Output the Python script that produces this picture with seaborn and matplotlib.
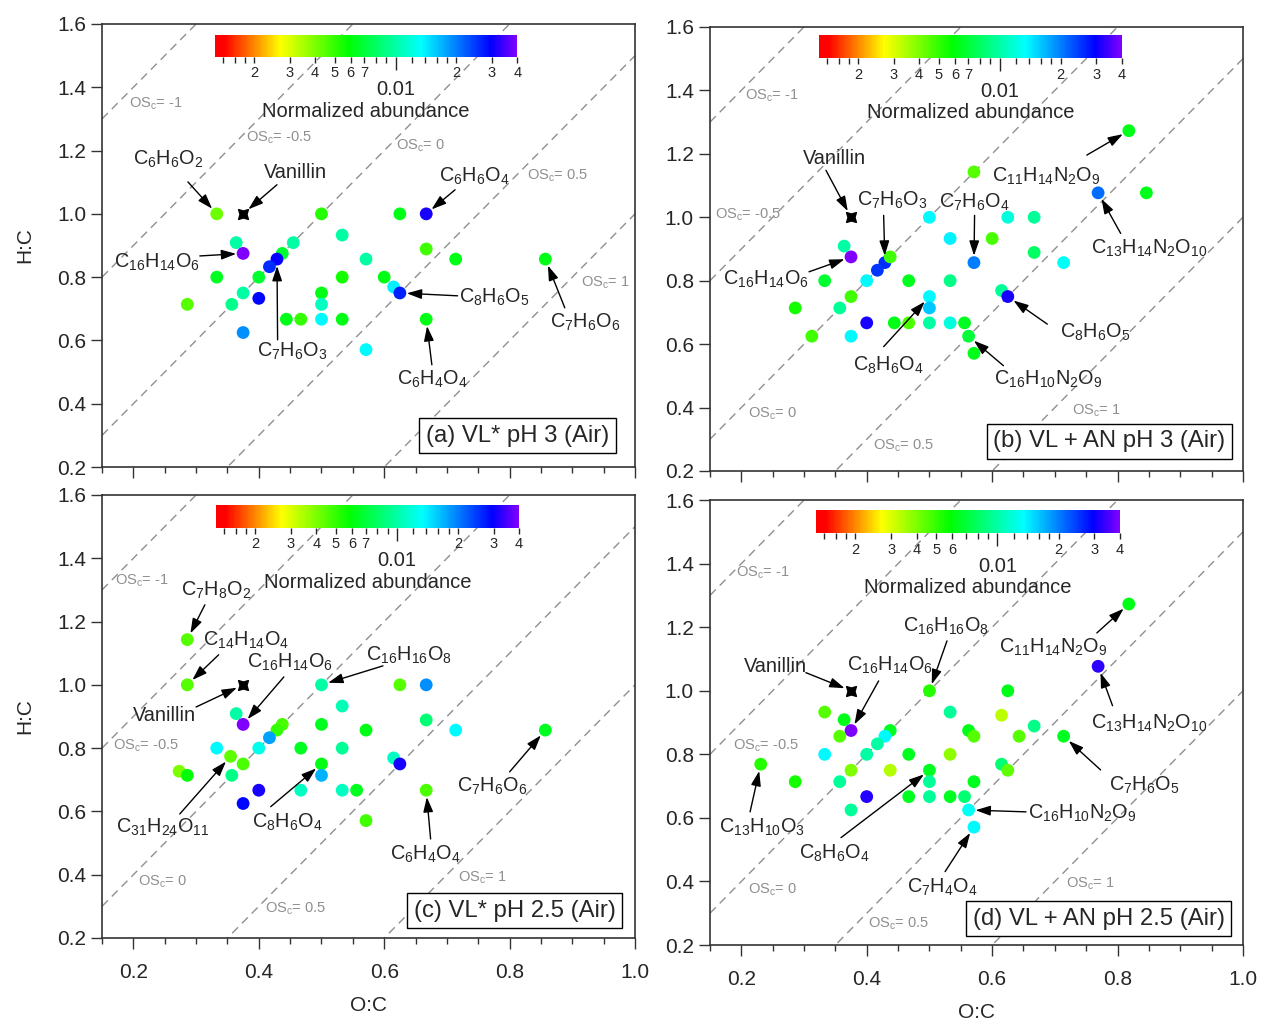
import re
import numpy as np
import pandas as pd
import matplotlib
matplotlib.use("Agg")
import matplotlib.pyplot as plt
import matplotlib.cm as cm
from matplotlib.colors import LinearSegmentedColormap, LogNorm
import seaborn as sns

sns.set_style("ticks")
plt.rcParams['font.family'] = ['Liberation Sans', 'DejaVu Sans']
plt.rcParams['mathtext.fontset'] = 'custom'
plt.rcParams['mathtext.rm'] = 'Liberation Sans'
plt.rcParams['mathtext.it'] = 'Liberation Sans:italic'
plt.rcParams['mathtext.bf'] = 'Liberation Sans:bold'
plt.rcParams['mathtext.default'] = 'regular'

# ---------------- data ----------------
osc_values = [-1, -0.5, 0, 0.5, 1]
vanillin = (0.375, 1.0)

a_oc = [0.333, 0.5, 0.625, 0.667, 0.364, 0.375, 0.455, 0.533, 0.4375, 0.429, 0.417, 0.333, 0.4, 0.375,
        0.4, 0.286, 0.357, 0.375, 0.571, 0.667, 0.714, 0.857, 0.533, 0.5, 0.5, 0.444, 0.467, 0.5, 0.533,
        0.6, 0.615, 0.625, 0.667, 0.571]
a_hc = [1.0, 1.0, 1.0, 1.0, 0.909, 0.875, 0.909, 0.933, 0.875, 0.857, 0.833, 0.8, 0.8, 0.75,
        0.733, 0.714, 0.714, 0.625, 0.857, 0.889, 0.857, 0.857, 0.8, 0.75, 0.714, 0.667, 0.667, 0.667, 0.667,
        0.8, 0.769, 0.75, 0.667, 0.571]
a_ab = [0.0042, 0.0052, 0.0062, 0.031, 0.010, 0.040, 0.010, 0.010, 0.0068, 0.030, 0.026, 0.0065, 0.0068, 0.010,
        0.029, 0.0045, 0.0092, 0.019, 0.010, 0.0048, 0.0062, 0.0062, 0.0055, 0.0062, 0.011, 0.0063, 0.0050, 0.0135, 0.0062,
        0.0062, 0.014, 0.027, 0.0062, 0.0135]

b_oc = [0.5, 0.571, 0.533, 0.364, 0.375, 0.429, 0.4375, 0.571, 0.818, 0.769, 0.846, 0.625, 0.667, 0.6,
        0.667, 0.714, 0.417, 0.4, 0.333, 0.467, 0.533, 0.286, 0.357, 0.375, 0.5, 0.5, 0.615, 0.625,
        0.3125, 0.4, 0.444, 0.467, 0.5, 0.533, 0.556, 0.375, 0.5625, 0.571]
b_hc = [1.0, 1.143, 0.933, 0.909, 0.875, 0.857, 0.875, 0.857, 1.273, 1.077, 1.077, 1.0, 1.0, 0.933,
        0.889, 0.857, 0.833, 0.8, 0.8, 0.8, 0.8, 0.714, 0.714, 0.75, 0.75, 0.714, 0.769, 0.75,
        0.625, 0.667, 0.667, 0.667, 0.667, 0.667, 0.667, 0.625, 0.625, 0.571]
b_ab = [0.0135, 0.0045, 0.014, 0.010, 0.040, 0.026, 0.0048, 0.020, 0.0063, 0.021, 0.0063, 0.012, 0.0095, 0.0047,
        0.008, 0.013, 0.025, 0.0135, 0.0068, 0.0064, 0.009, 0.0055, 0.0095, 0.0048, 0.0135, 0.016, 0.0095, 0.031,
        0.0048, 0.031, 0.0062, 0.0046, 0.010, 0.012, 0.0065, 0.0135, 0.007, 0.0063]

c_oc = [0.286, 0.286, 0.5, 0.625, 0.667, 0.364, 0.375, 0.533, 0.4375, 0.429, 0.417, 0.5, 0.571, 0.667,
        0.714, 0.857, 0.333, 0.4, 0.467, 0.533, 0.355, 0.375, 0.357, 0.273, 0.286, 0.5, 0.5, 0.615,
        0.625, 0.4, 0.375, 0.467, 0.533, 0.556, 0.667, 0.571]
c_hc = [1.143, 1.0, 1.0, 1.0, 1.0, 0.909, 0.875, 0.933, 0.875, 0.857, 0.833, 0.875, 0.857, 0.889,
        0.857, 0.857, 0.8, 0.8, 0.8, 0.8, 0.774, 0.75, 0.714, 0.727, 0.714, 0.75, 0.714, 0.769,
        0.75, 0.667, 0.625, 0.667, 0.667, 0.667, 0.667, 0.571]
c_ab = [0.0045, 0.0045, 0.010, 0.0045, 0.019, 0.010, 0.040, 0.0105, 0.0047, 0.0050, 0.018, 0.0065, 0.0062, 0.0085,
        0.0135, 0.0065, 0.0135, 0.0125, 0.0065, 0.0095, 0.0044, 0.0046, 0.009, 0.0040, 0.006, 0.0062, 0.017, 0.011,
        0.031, 0.031, 0.029, 0.011, 0.011, 0.0065, 0.0046, 0.0048]

d_oc = [0.5, 0.333, 0.364, 0.375, 0.533, 0.4375, 0.5625, 0.571, 0.818, 0.769, 0.625, 0.615, 0.667, 0.357,
        0.429, 0.417, 0.4, 0.333, 0.467, 0.533, 0.643, 0.714, 0.231, 0.286, 0.357, 0.375, 0.4375, 0.5,
        0.5, 0.571, 0.615, 0.625, 0.4, 0.467, 0.5, 0.533, 0.556, 0.375, 0.5625, 0.571]
d_hc = [1.0, 0.933, 0.909, 0.875, 0.933, 0.875, 0.875, 0.857, 1.273, 1.077, 1.0, 0.923, 0.889, 0.857,
        0.857, 0.833, 0.8, 0.8, 0.8, 0.8, 0.857, 0.857, 0.769, 0.714, 0.714, 0.75, 0.75, 0.75,
        0.714, 0.714, 0.769, 0.75, 0.667, 0.667, 0.667, 0.667, 0.667, 0.625, 0.625, 0.571]
d_ab = [0.0052, 0.0045, 0.0063, 0.040, 0.0095, 0.0065, 0.0063, 0.0045, 0.0063, 0.033, 0.0063, 0.0033, 0.009, 0.0045,
        0.0135, 0.010, 0.010, 0.0135, 0.0065, 0.0038, 0.0045, 0.0065, 0.0052, 0.0055, 0.0095, 0.0040, 0.0034, 0.0065,
        0.0095, 0.0065, 0.0085, 0.0044, 0.032, 0.0065, 0.0095, 0.0065, 0.0085, 0.0095, 0.013, 0.0135]

panel_tags = ["(a) VL* pH 3 (Air)", "(b) VL + AN pH 3 (Air)",
              "(c) VL* pH 2.5 (Air)", "(d) VL + AN pH 2.5 (Air)"]

cb_ticks = [0.002, 0.003, 0.004, 0.005, 0.006, 0.007, 0.02, 0.03, 0.04]
cb_tick_labels = ['2', '3', '4', '5', '6', '7', '2', '3', '4']
cb_minor = [0.0014, 0.0016, 0.0018, 0.008, 0.009, 0.012, 0.014, 0.016, 0.018]

# ---------------- layout / annotations ----------------
# (formula, text xy, arrow tail xy, arrow target xy)
notes = {
    'a': [("C6H6O2", (0.255, 1.171), (0.287, 1.101), (0.333, 1.0)),
          ("Vanillin", (0.458, 1.130), (0.429, 1.092), (0.375, 1.0)),
          ("C6H6O4", (0.743, 1.120), (0.713, 1.076), (0.667, 1.0)),
          ("C16H14O6", (0.238, 0.848), (0.306, 0.867), (0.375, 0.875)),
          ("C7H6O3", (0.453, 0.564), (0.430, 0.602), (0.429, 0.857)),
          ("C8H6O5", (0.776, 0.735), (0.717, 0.741), (0.625, 0.75)),
          ("C7H6O6", (0.920, 0.656), (0.888, 0.703), (0.857, 0.857)),
          ("C6H4O4", (0.677, 0.476), (0.676, 0.523), (0.667, 0.667))],
    'b': [("Vanillin", (0.349, 1.186), (0.335, 1.148), (0.375, 1.0)),
          ("C7H6O3", (0.440, 1.054), (0.427, 1.006), (0.429, 0.857)),
          ("C7H6O4", (0.572, 1.047), (0.572, 1.006), (0.571, 0.857)),
          ("C11H14N2O9", (0.686, 1.129), (0.751, 1.196), (0.818, 1.273)),
          ("C13H14N2O10", (0.850, 0.902), (0.805, 0.949), (0.769, 1.077)),
          ("C16H14O6", (0.240, 0.803), (0.308, 0.828), (0.375, 0.875)),
          ("C8H6O5", (0.764, 0.637), (0.688, 0.663), (0.625, 0.75)),
          ("C8H6O4", (0.434, 0.534), (0.427, 0.592), (0.5, 0.75)),
          ("C16H10N2O9", (0.690, 0.488), (0.618, 0.532), (0.5625, 0.625))],
    'c': [("C7H8O2", (0.332, 1.300), (0.314, 1.253), (0.286, 1.143)),
          ("C14H14O4", (0.379, 1.142), (0.336, 1.095), (0.286, 1.0)),
          ("C16H14O6", (0.450, 1.070), (0.440, 1.025), (0.375, 0.875)),
          ("C16H16O8", (0.639, 1.092), (0.598, 1.060), (0.5, 1.0)),
          ("Vanillin", (0.249, 0.902), (0.300, 0.930), (0.375, 1.0)),
          ("C31H24O11", (0.247, 0.551), (0.274, 0.592), (0.355, 0.774)),
          ("C8H6O4", (0.445, 0.567), (0.419, 0.615), (0.5, 0.75)),
          ("C7H6O6", (0.773, 0.678), (0.800, 0.725), (0.857, 0.857)),
          ("C6H4O4", (0.666, 0.463), (0.674, 0.513), (0.667, 0.667))],
    'd': [("Vanillin", (0.254, 1.075), (0.303, 1.057), (0.375, 1.0)),
          ("C16H14O6", (0.437, 1.079), (0.419, 1.031), (0.375, 0.875)),
          ("C16H16O8", (0.526, 1.204), (0.528, 1.157), (0.5, 1.0)),
          ("C11H14N2O9", (0.697, 1.138), (0.767, 1.182), (0.818, 1.273)),
          ("C13H14N2O10", (0.851, 0.896), (0.792, 0.953), (0.769, 1.077)),
          ("C7H6O5", (0.842, 0.704), (0.773, 0.751), (0.714, 0.857)),
          ("C16H10N2O9", (0.744, 0.613), (0.654, 0.619), (0.5625, 0.625)),
          ("C13H10O3", (0.233, 0.569), (0.214, 0.619), (0.231, 0.769)),
          ("C8H6O4", (0.349, 0.490), (0.359, 0.538), (0.5, 0.75)),
          ("C7H4O4", (0.520, 0.383), (0.525, 0.431), (0.571, 0.571))],
}
os_label_pos = {
    'a': [(0.236, 1.348), (0.432, 1.240), (0.658, 1.215), (0.877, 1.120), (0.952, 0.782)],
    'b': [(0.249, 1.382), (0.211, 1.009), (0.250, 0.381), (0.459, 0.280), (0.767, 0.391)],
    'c': [(0.214, 1.329), (0.220, 0.807), (0.247, 0.378), (0.459, 0.292), (0.756, 0.390)],
    'd': [(0.234, 1.371), (0.239, 0.827), (0.250, 0.374), (0.451, 0.267), (0.757, 0.393)],
}
tag_pos = {'a': (0.813, 0.299), 'b': (0.787, 0.293), 'c': (0.808, 0.286), 'd': (0.770, 0.283)}
axes_rect = {'a': [0.0809, 0.5426, 0.4227, 0.4339], 'b': [0.5630, 0.5387, 0.4227, 0.4349],
             'c': [0.0809, 0.0813, 0.4227, 0.4339], 'd': [0.5630, 0.0744, 0.4227, 0.4358]}
cbar_rect = {'a': [0.212, 0.926, 0.567, 0.050], 'b': [0.2045, 0.930, 0.568, 0.052],
             'c': [0.214, 0.926, 0.568, 0.052], 'd': [0.199, 0.926, 0.570, 0.052]}

cmap = LinearSegmentedColormap.from_list(
    "abund", [(0.0, '#ff0000'), (0.03, '#ff0000'), (0.215, '#ffff00'), (0.44, '#00ff00'),
              (0.683, '#00ffff'), (0.914, '#0000ff'), (1.0, '#8000ff')])
norm = LogNorm(vmin=0.00128, vmax=0.04)


def fm(s):
    if s == "Vanillin":
        return s
    return re.sub(r'(\d+)', r'$_{\1}$', s)


def os_text(v):
    return "OS$_c$= " + ("%g" % v)


fig = plt.figure(figsize=(12.61, 10.21), dpi=100)
data = {'a': (a_oc, a_hc, a_ab), 'b': (b_oc, b_hc, b_ab),
        'c': (c_oc, c_hc, c_ab), 'd': (d_oc, d_hc, d_ab)}

for i, key in enumerate(['a', 'b', 'c', 'd']):
    ax = fig.add_axes(axes_rect[key])
    oc, hc, ab = data[key]
    xs = np.array([0.15, 1.0])
    for v in osc_values:
        ax.plot(xs, 2 * xs - v, color='#8f8f8f', lw=1.0, dashes=(6, 4), zorder=1)
    for v, pos in zip(osc_values, os_label_pos[key]):
        ax.text(pos[0], pos[1], os_text(v), color='#8f8f8f', fontsize=10.5,
                ha='center', va='center', zorder=2)
    df = pd.DataFrame({'oc': oc, 'hc': hc, 'ab': ab})
    sns.scatterplot(data=df, x='oc', y='hc', hue='ab', palette=cmap, hue_norm=norm,
                    s=85, linewidth=0, legend=False, ax=ax, zorder=3)
    ax.scatter([vanillin[0]], [vanillin[1]], marker=(4, 1, 45), s=100, c='black', zorder=4)

    for name, txy, tail, tgt in notes[key]:
        ax.annotate('', xy=tgt, xytext=tail,
                    arrowprops=dict(arrowstyle='-|>,head_length=0.9,head_width=0.3',
                                    color='black', lw=1.0, shrinkA=0, shrinkB=5),
                    zorder=5)
        ax.text(txy[0], txy[1], fm(name), fontsize=14.3, ha='center', va='center', zorder=5)

    ax.text(tag_pos[key][0], tag_pos[key][1], panel_tags[i], fontsize=17.2, ha='center', va='center',
            zorder=6, bbox=dict(boxstyle='square,pad=0.28', fc='white', ec='black', lw=1.0))

    ax.set_xlim(0.15, 1.0)
    ax.set_ylim(0.2, 1.6)
    ax.set_xticks(np.round(np.arange(0.2, 1.01, 0.2), 2))
    ax.set_xticks(np.round(np.arange(0.15, 1.001, 0.05), 2), minor=True)
    ax.set_yticks(np.round(np.arange(0.2, 1.61, 0.2), 2))
    ax.xaxis.set_major_formatter(plt.FuncFormatter(lambda v, p: "%.1f" % v))
    ax.yaxis.set_major_formatter(plt.FuncFormatter(lambda v, p: "%.1f" % v))
    ax.tick_params(axis='both', which='major', direction='out', length=8, width=1.0,
                   labelsize=15, color='#333333')
    ax.tick_params(axis='x', which='major', pad=10)
    ax.tick_params(axis='both', which='minor', direction='out', length=4, width=1.0, color='#333333')
    for sp in ax.spines.values():
        sp.set_linewidth(1.2)
        sp.set_color('#333333')
    ax.set_xlabel('')
    ax.set_ylabel('')
    if key in ('a', 'b'):
        ax.tick_params(axis='x', labelbottom=False)
    else:
        ax.set_xlabel('O:C', fontsize=15, labelpad=10)
    if key in ('a', 'c'):
        ax.set_ylabel('H:C', fontsize=15, labelpad=16)

    # colour bar
    cax = ax.inset_axes(cbar_rect[key])
    sm = cm.ScalarMappable(norm=norm, cmap=cmap)
    cb = fig.colorbar(sm, cax=cax, orientation='horizontal')
    cb.outline.set_visible(False)
    labels = list(cb_tick_labels)
    if key == 'd':
        labels[5] = ''
    cb.set_ticks(cb_ticks + cb_minor, labels=labels + [''] * len(cb_minor), minor=True)
    cb.set_ticks([0.01], labels=['0.01'])
    cax.tick_params(which='minor', direction='out', length=4, width=1.0, labelsize=10.5, pad=3)
    cax.tick_params(which='major', direction='out', length=9, width=1.0, labelsize=14.5, pad=8)
    cax.set_xlabel('Normalized abundance', fontsize=14.5, labelpad=2)

fig.savefig('out.png', dpi=100)
